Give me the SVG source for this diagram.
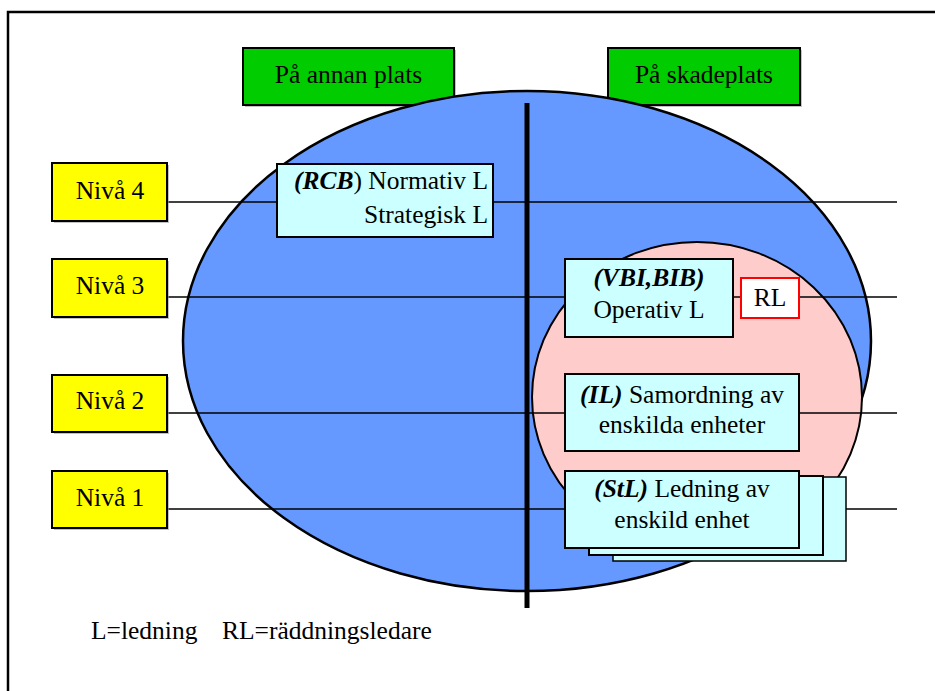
<svg xmlns="http://www.w3.org/2000/svg" width="935" height="691" viewBox="0 0 935 691">
<style>
text{font-family:"Liberation Serif","Times New Roman",serif;font-size:25.5px;fill:#000}
.bi{font-weight:bold;font-style:italic}
.box{stroke:#000;stroke-width:2}
.shadow{fill:#999;opacity:0.6}
.lvl{fill:#FFFF00}
.cy{fill:#CCFFFF}
.gr{fill:#00CC00}
.ln{stroke:#000;stroke-width:1.5;fill:none}
</style>
<rect width="935" height="691" fill="#fff"/>
<path d="M8,691 V12 H935" fill="none" stroke="#000" stroke-width="2.5"/>
<g id="hdr-annan">
<rect x="245" y="50" width="211" height="57" class="shadow"/>
<rect x="243" y="48" width="211" height="57" class="box gr" stroke="#333"/>
<text x="348.5" y="83" text-anchor="middle">På annan plats</text>
</g>
<g id="hdr-skade">
<rect x="610" y="50" width="192" height="57" class="shadow"/>
<rect x="608" y="48" width="192" height="57" class="box gr" stroke="#333"/>
<text x="704" y="83" text-anchor="middle">På skadeplats</text>
</g>
<g id="ellipse-outer">
<ellipse cx="527" cy="341" rx="344" ry="250" fill="#6699FF" stroke="#000" stroke-width="2.5"/>
</g>
<g id="ellipse-inner">
<ellipse cx="697" cy="397" rx="165" ry="155" fill="#FFCCCC" stroke="#000" stroke-width="2"/>
</g>
<g id="connectors">
<line x1="527" y1="103" x2="527" y2="608" stroke="#000" stroke-width="5"/>
<line x1="167" y1="202" x2="897" y2="202" class="ln"/>
<line x1="167" y1="297" x2="897" y2="297" class="ln"/>
<line x1="167" y1="413" x2="897" y2="413" class="ln"/>
<line x1="167" y1="509" x2="897" y2="509" class="ln"/>
</g>
<g id="niva4">
<rect x="54" y="165" width="115" height="58" class="shadow"/>
<rect x="52" y="163" width="115" height="58" class="box lvl"/>
<text x="110" y="199" text-anchor="middle">Nivå 4</text>
</g>
<g id="niva3">
<rect x="54" y="261" width="115" height="58" class="shadow"/>
<rect x="52" y="259" width="115" height="58" class="box lvl"/>
<text x="110" y="294" text-anchor="middle">Nivå 3</text>
</g>
<g id="niva2">
<rect x="54" y="377" width="115" height="57" class="shadow"/>
<rect x="52" y="375" width="115" height="57" class="box lvl"/>
<text x="110" y="409" text-anchor="middle">Nivå 2</text>
</g>
<g id="niva1">
<rect x="54" y="473" width="115" height="57" class="shadow"/>
<rect x="52" y="471" width="115" height="57" class="box lvl"/>
<text x="110" y="506" text-anchor="middle">Nivå 1</text>
</g>
<g id="rcb">
<rect x="277" y="164" width="216" height="73" class="box cy"/>
<text x="488" y="189" text-anchor="end"><tspan class="bi">(RCB</tspan>) Normativ L</text>
<text x="488" y="223" text-anchor="end">Strategisk L</text>
</g>
<g id="vbi">
<rect x="565" y="259" width="168" height="78" class="box cy"/>
<text x="649" y="286" text-anchor="middle" class="bi">(VBI,BIB)</text>
<text x="649" y="318" text-anchor="middle">Operativ L</text>
</g>
<g id="rl">
<rect x="741" y="278" width="58" height="40" fill="#fff" stroke="#FF0000" stroke-width="2"/>
<text x="770" y="306" text-anchor="middle">RL</text>
</g>
<g id="il">
<rect x="565" y="374" width="234" height="77" class="box cy"/>
<text x="682" y="403" text-anchor="middle"><tspan class="bi">(IL)</tspan> Samordning av</text>
<text x="682" y="433" text-anchor="middle">enskilda enheter</text>
</g>
<g id="stl">
<rect x="613" y="477" width="233" height="84" class="cy" stroke="#000" stroke-width="1.5"/>
<rect x="589" y="476" width="234" height="79" class="box cy"/>
<rect x="565" y="471" width="234" height="77" class="box cy"/>
<text x="682" y="497" text-anchor="middle"><tspan class="bi">(StL)</tspan> Ledning av</text>
<text x="682" y="528" text-anchor="middle">enskild enhet</text>
</g>
<g id="legend">
<text x="91" y="639">L=ledning</text>
<text x="222" y="639">RL=räddningsledare</text>
</g>
</svg>
